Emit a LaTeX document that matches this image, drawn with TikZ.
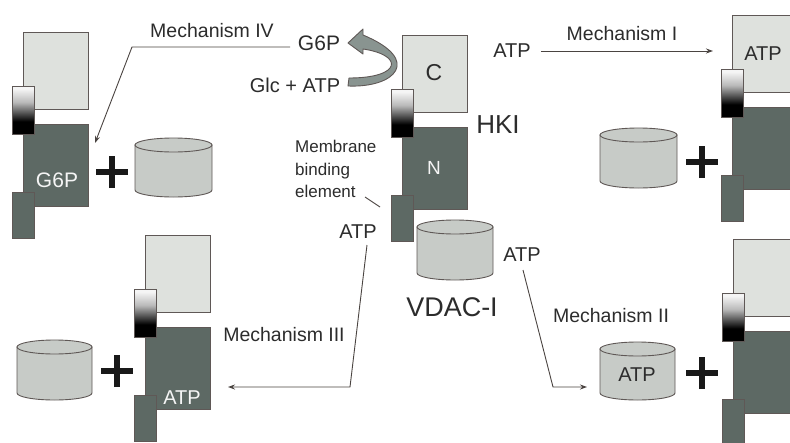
\documentclass[tikz,border=0pt]{standalone}
\usepackage{fontspec}
\setmainfont{Liberation Sans}
\usetikzlibrary{arrows.meta}
\definecolor{lightbox}{HTML}{DEE1DD}
\definecolor{darkbox}{HTML}{5D6964}
\definecolor{edgec}{HTML}{5F5856}
\definecolor{cylfill}{HTML}{C7CBC7}
\definecolor{txt}{HTML}{2C2C2C}
\definecolor{linec}{HTML}{4A4441}
\definecolor{afill}{HTML}{899490}
\pgfdeclareverticalshading{hingeshade}{100bp}{color(0bp)=(black); color(25bp)=(black); color(38bp)=(black); color(58bp)=(gray!55); color(72bp)=(white!92!gray); color(75bp)=(white!92!gray); color(100bp)=(white!92!gray)}
\newcommand{\hkunit}[3]{%
  \node[lbox, minimum width=65pt, minimum height=77pt] (#1c) at ({#2+32.5},{-#3-38.5}) {};
  \node[dbox, minimum width=65pt, minimum height=82pt] (#1n) at ({#2+32.5},{-#3-133}) {};
  \node[hingest, minimum width=22pt, minimum height=48pt] (#1h) at (#2,{-#3-78}) {};
  \node[dbox, minimum width=22pt, minimum height=46pt] (#1m) at (#2,{-#3-183}) {};
}
\newcommand{\cylunit}[5]{%
  \pgfmathsetmacro{\cylrx}{(#4-#2)/2}
  \filldraw[cylst] (#2,{-#3-7}) -- (#2,{-#5+7}) arc[start angle=180, end angle=360, x radius=\cylrx, y radius=7] -- (#4,{-#3-7}) -- cycle;
  \filldraw[cylst] ({(#2+#4)/2},{-#3-7}) ellipse [x radius=\cylrx, y radius=7];
  \coordinate (#1) at ({(#2+#4)/2},{-(#3+#5)/2});
}
\newcommand{\plusunit}[2]{%
  \draw[plusst] ({#1-16},-#2) -- ({#1+16},-#2) (#1,{-#2-16}) -- (#1,{-#2+16});
}
\begin{document}
\begin{tikzpicture}[x=1pt,y=1pt,
  lbox/.style={fill=lightbox, draw=edgec, line width=0.9pt, inner sep=0pt, outer sep=0pt},
  dbox/.style={fill=darkbox, draw=edgec, line width=0.9pt, inner sep=0pt, outer sep=0pt},
  hingest/.style={shade, shading=hingeshade, draw=edgec, line width=0.8pt, inner sep=0pt, outer sep=0pt},
  cylst/.style={fill=cylfill, draw=edgec, line width=0.9pt},
  plusst/.style={draw=black!90, line width=6pt},
  conn/.style={draw=linec, line width=0.9pt},
  arr/.style={conn, -{Stealth[length=7pt, width=5pt]}},
  lab/.style={text=txt, inner sep=0pt, font=\fontsize{20}{24}\selectfont},
  mech/.style={text=txt, inner sep=0pt, font=\fontsize{19.5}{23}\selectfont},
  wlab/.style={text=white!92!gray, inner sep=0pt, font=\fontsize{20}{24}\selectfont},
  blockarrow/.style={fill=afill, draw=edgec, line width=0.9pt, line join=round},
]
\useasboundingbox (0,0) rectangle (790,-442);
\fill[white] (0,0) rectangle (790,-442);
\clip (0,0) rectangle (790,-442);

% hexokinase units
\hkunit{tl}{23}{32}
\hkunit{ce}{402}{35}
\hkunit{bl}{145}{235}
\hkunit{tr}{732}{15}
\hkunit{br}{733}{239}

% cylinders (VDAC)
\cylunit{cyltl}{135}{138}{212}{197}
\cylunit{cyltr}{600}{128}{677}{188}
\cylunit{vdac}{417}{220}{493}{280}
\cylunit{cylbl}{17}{340}{92}{400}
\cylunit{cylbr}{600}{342}{675}{400}

% plus signs
\plusunit{112}{172}
\plusunit{702}{162}
\plusunit{117}{371}
\plusunit{702}{373}

% labels inside shapes
\node[lab, font=\fontsize{23}{27}\selectfont] (clab) at (434,-73) {C};
\node[wlab, font=\fontsize{19}{23}\selectfont] (nlab) at (434,-168) {N};
\node[wlab, font=\fontsize{21}{25}\selectfont] (g6pin) at (57,-180) {G6P};
\node[wlab] (atpbl) at (182,-398) {ATP};
\node[lab] (atptr) at (763,-54) {ATP};
\node[lab] (atpbr) at (637,-375) {ATP};

% free labels
\node[lab, font=\fontsize{26}{30}\selectfont] (hki) at (498,-125) {HKI};
\node[lab, font=\fontsize{27}{31}\selectfont] (vdaclab) at (452,-307) {VDAC-I};
\node[lab, font=\fontsize{21}{25}\selectfont] (g6p) at (319,-43) {G6P};
\node[lab] (glc) at (295,-85) {Glc + ATP};
\node[lab, anchor=west, align=left, font=\fontsize{17}{22.5}\selectfont] (mbe) at (295,-169) {Membrane\\binding\\element};
\node[lab] (atp1) at (512,-51) {ATP};
\node[lab] (atp2) at (522,-255) {ATP};
\node[lab] (atp3) at (358,-232) {ATP};
\node[mech] (m1) at (622,-34) {Mechanism I};
\node[mech] (m2) at (611,-316) {Mechanism II};
\node[mech] (m3) at (284,-335) {Mechanism III};
\node[mech] (m4) at (212,-31) {Mechanism IV};

% curved block arrow (Glc + ATP -> G6P)
\draw[blockarrow] (348,-86) .. controls (395,-88) and (423,-60) .. (363,-35) -- (363,-29) -- (348,-43) -- (363,-54) -- (363,-49) .. controls (404,-55) and (402,-78) .. (349,-78) -- cycle;

% connectors
\coordinate (m1end) at (713,-51);
\draw[arr, shorten <=10pt] (atp1.east) -- (m1end);

\coordinate (m4start) at (290,-47);
\coordinate (m4corner) at (132,-47);
\coordinate (m4end) at (95,-143);
\draw[arr] (m4start) -- (m4corner) -- (m4end);

\coordinate (m3start) at (367,-245);
\coordinate (m3corner) at (350,-387);
\coordinate (m3end) at (228,-387);
\draw[arr] (m3start) -- (m3corner) -- (m3end);

\coordinate (m2start) at (523,-270);
\coordinate (m2corner) at (553,-387);
\coordinate (m2end) at (587,-387);
\draw[arr] (m2start) -- (m2corner) -- (m2end);

\coordinate (mbea) at (365,-197);
\coordinate (mbeb) at (380,-207);
\draw[conn] (mbea) -- (mbeb);
\end{tikzpicture}
\end{document}
